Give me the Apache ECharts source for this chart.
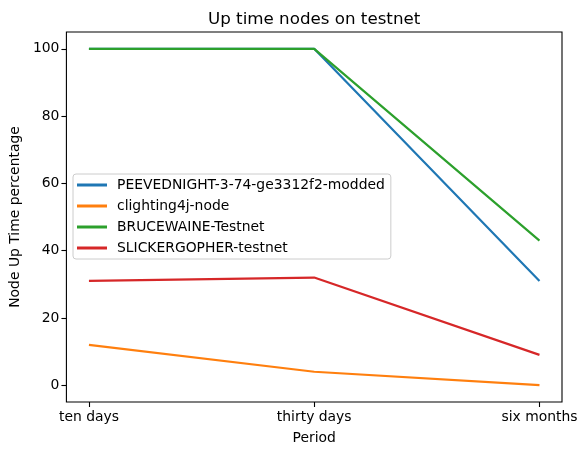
<!DOCTYPE html>
<html>
<head>
<meta charset="utf-8">
<script src="https://cdn.jsdelivr.net/npm/echarts@6.0.0/dist/echarts.min.js"></script>
<style>
  html, body { margin: 0; padding: 0; background: #fff; }
  #chart { width: 586px; height: 455px; }
</style>
</head>
<body>
<div id="chart"></div>
<script>
// categories on the x axis
const periods = ['ten days', 'thirty days', 'six months']
const yTicks = [0, 20, 40, 60, 80, 100]

// up time per node (percent)
const peevednight = [100, 100, 31]
const clighting = [12, 4, 0]
const brucewaine = [100, 100, 43]
const slickergopher = [31, 32, 9]

const nodeNames = ['PEEVEDNIGHT-3-74-ge3312f2-modded', 'clighting4j-node', 'BRUCEWAINE-Testnet', 'SLICKERGOPHER-testnet']
const nodeValues = [peevednight, clighting, brucewaine, slickergopher]
const colors = ['#1f77b4', '#ff7f0e', '#2ca02c', '#d62728']

const font = 'DejaVu Sans'
const chart = echarts.init(document.getElementById('chart'), null, { renderer: 'canvas' })

const series = nodeNames.map((name, i) => ({
  name: name,
  type: 'line',
  data: nodeValues[i].map((v, k) => [k, v]),
  symbol: 'none',
  lineStyle: { width: 2.2, color: colors[i] },
  itemStyle: { color: colors[i] },
  z: 2 + i,
}))

chart.setOption({
  animation: false,
  title: {
    text: 'Up time nodes on testnet',
    left: 203,
    top: 6,
    textStyle: { fontFamily: font, fontSize: 16.7, fontWeight: 'normal', color: '#000' },
  },
  grid: {
    left: 66, right: 24, top: 32, bottom: 53,
    show: true, borderColor: '#000', borderWidth: 1.1, backgroundColor: 'transparent',
  },
  legend: {
    orient: 'vertical',
    left: 73,
    top: 174,
    padding: [4, 6, 4, 4],
    itemGap: 7,
    itemWidth: 30,
    itemHeight: 3,
    icon: 'rect',
    backgroundColor: 'rgba(255,255,255,0.8)',
    borderColor: '#cccccc',
    borderWidth: 1,
    borderRadius: 3,
    textStyle: { fontFamily: font, fontSize: 13.9, color: '#000', lineHeight: 14, padding: [0, 0, 0, 5] },
    data: nodeNames,
  },
  xAxis: {
    type: 'value',
    min: -0.1,
    max: 2.1,
    name: 'Period',
    nameLocation: 'middle',
    nameGap: 29,
    nameTextStyle: { fontFamily: font, fontSize: 13.9, color: '#000' },
    splitLine: { show: false },
    axisLine: { show: false, onZero: false },
    axisTick: { show: true, length: 5, lineStyle: { color: '#000', width: 1.1 }, customValues: [0, 1, 2] },
    axisLabel: {
      fontFamily: font, fontSize: 13.9, color: '#000', margin: 8,
      customValues: [0, 1, 2],
      formatter: v => periods[Math.round(v)],
    },
  },
  yAxis: {
    type: 'value',
    min: -5,
    max: 105,
    name: 'Node Up Time percentage',
    nameLocation: 'middle',
    nameGap: 44,
    nameTextStyle: { fontFamily: font, fontSize: 13.9, color: '#000' },
    splitLine: { show: false },
    axisLine: { show: false, onZero: false },
    axisTick: { show: true, length: 5, lineStyle: { color: '#000', width: 1.1 }, customValues: yTicks },
    axisLabel: { fontFamily: font, fontSize: 13.9, color: '#000', margin: 7, customValues: yTicks },
  },
  series: series,
})
</script>
</body>
</html>
